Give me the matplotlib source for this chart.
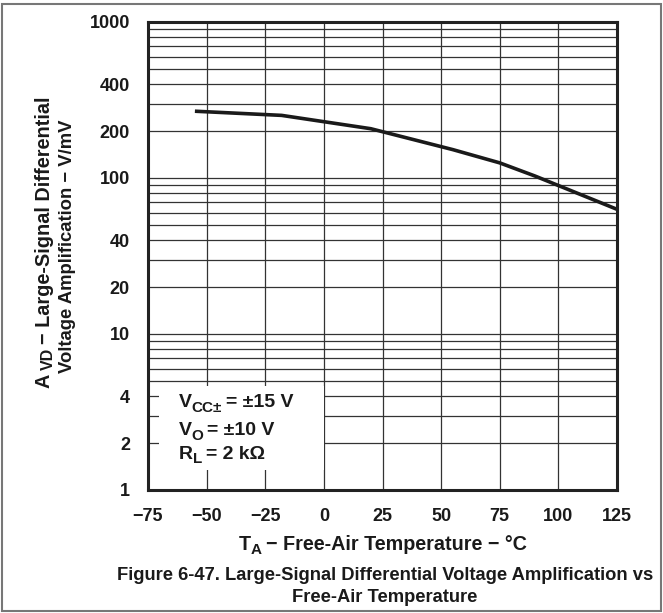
import matplotlib
matplotlib.use("Agg")
import matplotlib.pyplot as plt
from matplotlib.patches import Rectangle
from matplotlib.ticker import FixedLocator, NullFormatter, LogLocator
from matplotlib.transforms import IdentityTransform
import numpy as np

temps = [-55, -18, 20, 55, 75, 90, 125]
avd = [268, 252, 207, 152, 125, 103, 63]
xticks = [-75, -50, -25, 0, 25, 50, 75, 100, 125]
xtick_labels = ["\u221275", "\u221250", "\u221225", "0", "25", "50", "75", "100", "125"]
yticks = [1, 2, 4, 10, 20, 40, 100, 200, 400, 1000]
ytick_labels = ["1", "2", "4", "10", "20", "40", "100", "200", "400", "1000"]

plt.rcParams['font.family'] = ['Liberation Sans', 'DejaVu Sans']
plt.rcParams['font.weight'] = 'bold'

W, H = 663, 613
fig = plt.figure(figsize=(W / 100, H / 100), dpi=100)
ax = fig.add_axes([148 / W, 1 - 490 / H, (617 - 148) / W, (490 - 22) / H])

ax.set_yscale('log')
ax.set_xlim(-75, 125)
ax.set_ylim(1, 1000)

ax.tick_params(axis='both', which='both', length=0, pad=13)
ax.set_xticks(xticks)
ax.set_xticklabels(xtick_labels, fontsize=13, fontweight='bold', color='#1a1a1a')
ax.yaxis.set_major_locator(FixedLocator(yticks))
ax.set_yticklabels(ytick_labels, fontsize=13, fontweight='bold', color='#1a1a1a')
ax.yaxis.set_minor_locator(LogLocator(base=10, subs=np.arange(1, 10)))
ax.yaxis.set_minor_formatter(NullFormatter())

ax.grid(True, which='both', axis='y', color='#333333', linewidth=0.9, zorder=0)
ax.grid(True, which='major', axis='x', color='#333333', linewidth=0.9, zorder=0)
ax.set_axisbelow(True)

for s in ax.spines.values():
    s.set_linewidth(2.2)
    s.set_color('#222222')
    s.set_zorder(5)

# white annotation box covering grid
ax.add_patch(Rectangle((-70.3, 1.34), 70.3, 4.64 - 1.34, facecolor='white',
                       edgecolor='none', zorder=1))

ax.plot(temps, avd, color='#1a1a1a', linewidth=2.6, zorder=3, solid_capstyle='butt')

renderer = fig.canvas.get_renderer()


def seg_text(x, y, segs, rot=0, align='left'):
    """segs: list of (text, fontsize, drop_px, gap_after_px). x, y in image pixels (y from top),
    baseline start (or centre if align='center')."""
    items = []
    total = 0.0
    for s, size, drop, gap in segs:
        t = fig.text(0, 0, s, fontsize=size, fontweight='bold', ha='left', va='baseline',
                     rotation=rot, rotation_mode='anchor', transform=IdentityTransform(),
                     color='#1a1a1a', zorder=6)
        bb = t.get_window_extent(renderer)
        length = bb.width if rot == 0 else bb.height
        items.append((t, drop, total))
        total += length + gap
    total -= segs[-1][3]
    yd = H - y
    for t, drop, off in items:
        if rot == 0:
            start = x - total / 2 if align == 'center' else x
            t.set_position((start + off, yd - drop))
        else:
            start = yd - total / 2 if align == 'center' else yd
            t.set_position((x + drop, start + off))
    return total


# annotation box text
seg_text(179, 407, [("V", 14, 0, -0.5), ("CC\u00b1", 11, 4.5, 4), ("= \u00b115 V", 14, 0, 0)])
seg_text(179, 435, [("V", 14, 0, -0.5), ("O", 11, 4.5, 4), ("= \u00b110 V", 14, 0, 0)])
seg_text(179, 459, [("R", 14, 0, -0.5), ("L", 11, 4.0, 4), ("= 2 k\u03a9", 14, 0, 0)])

# y label (rotated)
seg_text(50, 242, [("A", 14.3, 0, 3), ("VD", 11.5, 2.5, 4.5), ("\u2212 Large-Signal Differential", 14.3, 0, 0)],
         rot=90, align='center')
seg_text(72, 246, [("Voltage Amplification \u2212 V/mV", 13.3, 0, 0)], rot=90, align='center')

# x label
seg_text(383, 550, [("T", 14.2, 0, -0.5), ("A", 11, 4.5, 4.5), ("\u2212 Free-Air Temperature \u2212 \u00b0C", 14.2, 0, 0)],
         align='center')

fig.text(385 / W, 1 - 576 / H, "Figure 6-47. Large-Signal Differential Voltage Amplification vs",
         ha='center', va='center', fontsize=13.2, fontweight='bold', color='#1a1a1a')
fig.text(385 / W, 1 - 598 / H, "Free-Air Temperature",
         ha='center', va='center', fontsize=13.2, fontweight='bold', color='#1a1a1a')

fig.add_artist(Rectangle((2 / W, 2 / H), 659 / W, 607 / H, transform=fig.transFigure,
                         fill=False, edgecolor='#777777', linewidth=1.5))

fig.savefig('out.png', dpi=100)
